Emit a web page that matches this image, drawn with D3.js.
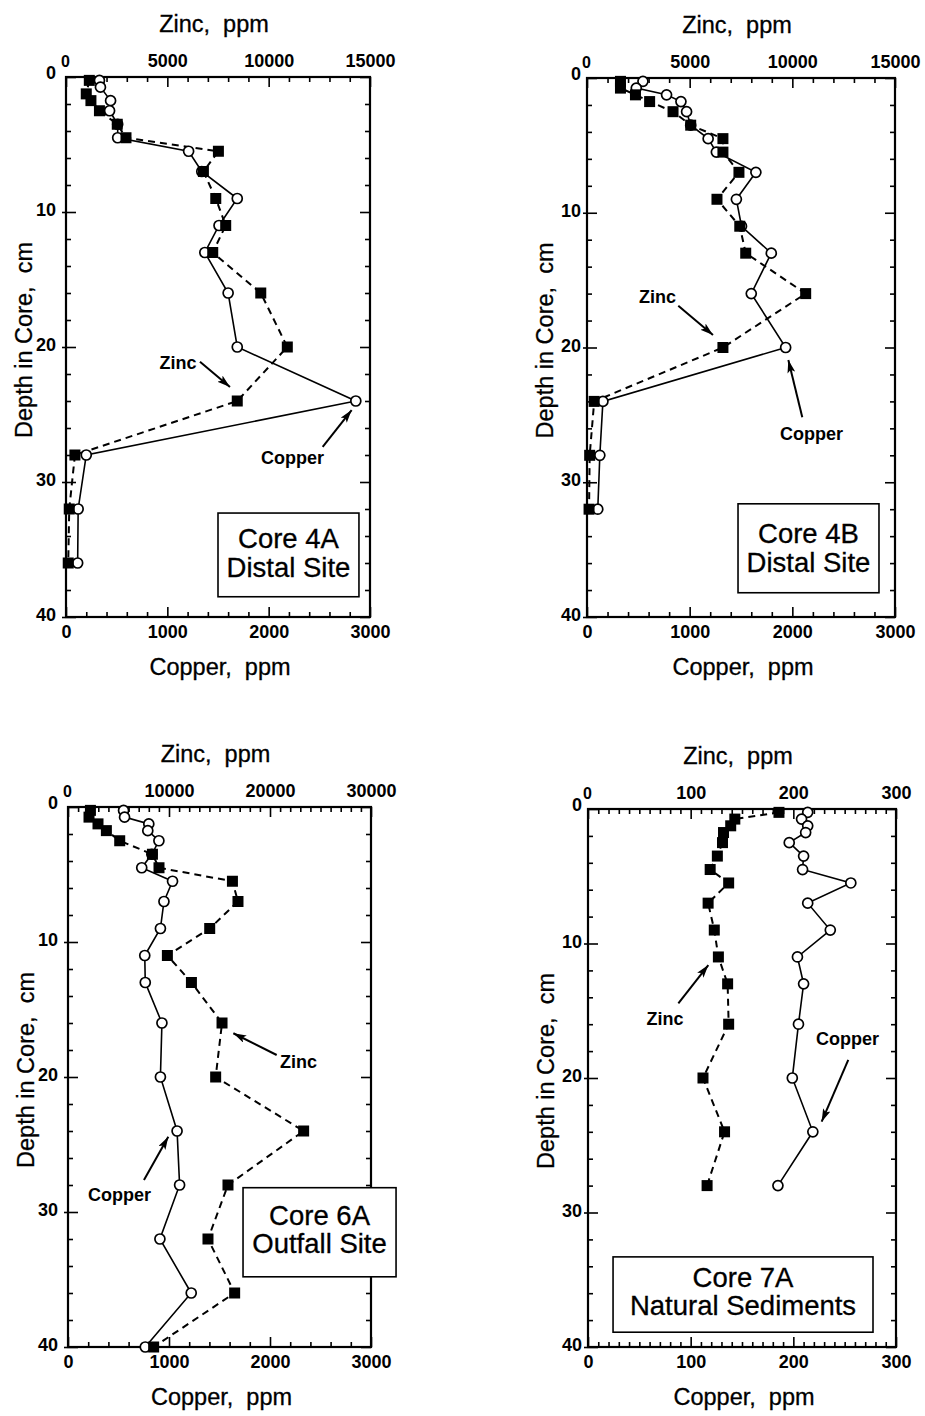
<!DOCTYPE html>
<html><head><meta charset="utf-8">
<script src="https://cdn.jsdelivr.net/npm/d3@7"></script>
<style>
body{margin:0;background:#fff}
svg{display:block}
text{font-family:"Liberation Sans",Arial,Helvetica,sans-serif;fill:#000}
</style>
</head><body>
<svg id="c" width="925" height="1416"></svg>
<script>
// ---------------- DATA ----------------
// Core 4A (Distal Site)
const depth4A_cu = [0.25,0.75,1.75,2.5,3.5,4.5,5.5,7,9,11,13,16,20,24,28,32,36];
const cu4A       = [330,340,440,430,510,510,1210,1340,1690,1510,1370,1600,1690,2860,200,120,115];
const depth4A_zn = [0.25,1.25,1.75,2.5,3.5,4.5,5.5,7,9,11,13,16,20,24,28,32,36];
const zn4A       = [1150,1000,1230,1650,2530,2960,7520,6780,7390,7880,7240,9610,10920,8450,440,160,110];

// Core 4B (Distal Site)
const depth4B_cu = [0.25,0.75,1.25,1.75,2.5,3.5,4.5,5.5,7,9,11,13,16,20,24,28,32];
const cu4B       = [545,480,775,915,970,1010,1180,1260,1645,1455,1505,1795,1600,1935,155,125,105];
const depth4B_zn = [0.25,0.75,1.25,1.75,2.5,3.5,4.5,5.5,7,9,11,13,16,20,24,28,32];
const zn4B       = [1630,1630,2360,3050,4190,5050,6620,6620,7400,6330,7440,7730,10650,6620,350,130,100];

// Core 6A (Outfall Site)
const depth6A_cu = [0.25,0.75,1.25,1.75,2.5,3.5,4.5,5.5,7,9,11,13,16,20,24,28,32,36,40];
const cu6A       = [550,560,800,790,900,830,730,1035,950,915,760,765,930,915,1080,1105,910,1220,765];
const depth6A_zn = [0.25,0.75,1.25,1.75,2.5,3.5,4.5,5.5,7,9,11,13,16,20,24,28,32,36,40];
const zn6A       = [2220,2080,2970,3800,5120,8360,9010,16280,16830,14030,9840,12220,15250,14620,23330,15840,13860,16500,8480];

// Core 7A (Natural Sediments)
const depth7A_cu = [0.25,0.75,1.25,1.75,2.5,3.5,4.5,5.5,7,9,11,13,16,20,24,28];
const cu7A       = [214,208,214,212,196,210,209,256,214,236,204,210,205,199,219,185];
const depth7A_zn = [0.25,0.75,1.25,1.75,2.5,3.5,4.5,5.5,7,9,11,13,16,20,24,28];
const zn7A       = [186,143,139,132,131,126,119,137,117,123,127,136,137,112,133,116];

// Tick labels
const depthTicks = [0,10,20,30,40];
const cuTicks3000 = [0,1000,2000,3000];
const znTicks15000 = [0,5000,10000,15000];
const znTicks30000 = [0,10000,20000,30000];
const ticks300 = [0,100,200,300];

// Text
const zincTitle = "Zinc,\u00a0\u00a0ppm";
const copperTitle = "Copper,\u00a0\u00a0ppm";
const depthTitle = "Depth in Core,\u00a0\u00a0cm";
const boxLines4A = ["Core 4A","Distal Site"];
const boxLines4B = ["Core 4B","Distal Site"];
const boxLines6A = ["Core 6A","Outfall Site"];
const boxLines7A = ["Core 7A","Natural Sediments"];

// ---------------- LAYOUT ----------------
const panels = [
  {frame:[66,370,77,617], cuMax:3000, znMax:15000, cuStep:200, znStep:1000, cuMajor:1000, znMajor:5000,
   cuLab:cuTicks3000, znLab:znTicks15000, dc:depth4A_cu, cu:cu4A, dz:depth4A_zn, zn:zn4A, leftPad:10,
   box:{cu:[1500,2891], d:[32.3,38.5], lines:boxLines4A, base:[35,64]},
   ann:[{t:"Zinc", at:[1105,21.6], from:[1322,21.1], to:[1618,22.96]},
        {t:"Copper", at:[2235,28.7], from:[2533,27.4], to:[2819,24.67]}]},
  {frame:[587,895,78,617], cuMax:3000, znMax:15000, cuStep:200, znStep:1000, cuMajor:1000, znMajor:5000,
   cuLab:cuTicks3000, znLab:znTicks15000, dc:depth4B_cu, cu:cu4B, dz:depth4B_zn, zn:zn4B, leftPad:6,
   box:{cu:[1471,2844], d:[31.6,38.2], lines:boxLines4B, base:[39,68]},
   ann:[{t:"Zinc", at:[687,16.7], from:[889,16.9], to:[1227,19.07]},
        {t:"Copper", at:[2187,26.86], from:[2097,25.18], to:[1961,20.93]}]},
  {frame:[68,371,807,1347], cuMax:3000, znMax:30000, cuStep:200, znStep:1000, cuMajor:1000, znMajor:10000,
   cuLab:cuTicks3000, znLab:znTicks30000, dc:depth6A_cu, cu:cu6A, dz:depth6A_zn, zn:zn6A, leftPad:10,
   box:{cu:[1733,3248], d:[28.2,34.8], lines:boxLines6A, base:[37,65]},
   ann:[{t:"Zinc", at:[2282,19.33], from:[2066,18.37], to:[1637,16.76]},
        {t:"Copper", at:[510,29.19], from:[752,27.63], to:[993,24.42]}]},
  {frame:[588,896,809,1347], cuMax:300, znMax:300, cuStep:10, znStep:10, cuMajor:100, znMajor:100,
   cuLab:ticks300, znLab:ticks300, dc:depth7A_cu, cu:cu7A, dz:depth7A_zn, zn:zn7A, leftPad:6,
   box:{cu:[24.4,277.6], d:[33.3,38.9], lines:boxLines7A, base:[30,58]},
   ann:[{t:"Zinc", at:[75,16.06], from:[88,14.45], to:[117.2,11.6]},
        {t:"Copper", at:[252.8,17.55], from:[253.5,18.66], to:[227.6,23.25]}]}
];

const svg = d3.select("#c");
svg.append("rect").attr("width",925).attr("height",1416).attr("fill","#fff");
svg.append("defs").append("marker")
  .attr("id","ah").attr("viewBox","0 0 13 8").attr("refX",13).attr("refY",4)
  .attr("markerWidth",13).attr("markerHeight",8).attr("markerUnits","userSpaceOnUse")
  .attr("orient","auto")
  .append("path").attr("d","M0,0L13,4L0,8L3,4Z").attr("fill","#000");

function styleAxis(g){
  g.select(".domain").remove();
  g.selectAll(".tick line").attr("stroke","#000").attr("stroke-width",1.6);
  g.selectAll("text").attr("font-size",18).attr("font-weight","bold")
   .attr("font-family","'Liberation Sans',Arial,sans-serif").attr("fill","#000");
}

panels.forEach(p=>{
  const [x0,x1,y0,y1] = p.frame;
  const x = d3.scaleLinear().domain([0,p.cuMax]).range([x0,x1]);
  const xz = d3.scaleLinear().domain([0,p.znMax]).range([x0,x1]);
  const y = d3.scaleLinear().domain([0,40]).range([y0,y1]);
  const g = svg.append("g");

  const cuMinor = d3.range(0,p.cuMax+1e-9,p.cuStep).filter(v=>v%p.cuMajor!==0);
  const znMinor = d3.range(0,p.znMax+1e-9,p.znStep).filter(v=>v%p.znMajor!==0);
  const dMinor = d3.range(0,41,2).filter(v=>v%10!==0);
  const minorLen = 5, majorLen = 10;

  // bottom (copper)
  styleAxis(g.append("g").attr("transform",`translate(0,${y1})`)
    .call(d3.axisBottom(x).tickValues(cuMinor).tickSize(-minorLen).tickFormat("")));
  styleAxis(g.append("g").attr("transform",`translate(0,${y1})`)
    .call(d3.axisBottom(x).tickValues(p.cuLab).tickSize(-majorLen).tickPadding(8).tickFormat(d3.format("d"))));
  // top (zinc)
  styleAxis(g.append("g").attr("transform",`translate(0,${y0})`)
    .call(d3.axisTop(xz).tickValues(znMinor).tickSize(-minorLen).tickFormat("")));
  const topAx = g.append("g").attr("transform",`translate(0,${y0})`)
    .call(d3.axisTop(xz).tickValues(p.znLab).tickSize(-majorLen).tickPadding(10).tickFormat(d3.format("d")));
  styleAxis(topAx);
  topAx.selectAll(".tick").filter(d=>d===0).select("text").attr("font-size",16).attr("dx",-1);
  // left (depth)
  styleAxis(g.append("g").attr("transform",`translate(${x0},0)`)
    .call(d3.axisLeft(y).tickValues(dMinor).tickSize(-minorLen).tickFormat("")));
  const leftAx = g.append("g").attr("transform",`translate(${x0},0)`)
    .call(d3.axisLeft(y).tickValues(depthTicks).tickSize(-majorLen).tickPadding(p.leftPad).tickFormat(d3.format("d")));
  styleAxis(leftAx);
  leftAx.selectAll("text").attr("dy","0.2em");
  leftAx.selectAll(".tick").filter(d=>d===0).select("text").attr("dy","0.1em");
  styleAxis(g.append("g").attr("transform",`translate(${x0},0)`)
    .call(d3.axisLeft(y).tickValues(depthTicks.slice(1)).tickSize(4).tickFormat("")));
  // right
  styleAxis(g.append("g").attr("transform",`translate(${x1},0)`)
    .call(d3.axisRight(y).tickValues(dMinor).tickSize(-minorLen).tickFormat("")));
  styleAxis(g.append("g").attr("transform",`translate(${x1},0)`)
    .call(d3.axisRight(y).tickValues(depthTicks).tickSize(-majorLen).tickFormat("")));

  // frame
  g.append("rect").attr("x",x0).attr("y",y0).attr("width",x1-x0).attr("height",y1-y0)
    .attr("fill","none").attr("stroke","#000").attr("stroke-width",2.2);

  // titles
  const cx = (x0+x1)/2;
  const titleStyle = t => t.attr("font-size",23.5).attr("stroke","#000").attr("stroke-width",0.3);
  g.append("text").attr("x",cx-4).attr("y",y0-45).attr("text-anchor","middle")
    .call(titleStyle).text(zincTitle);
  g.append("text").attr("x",cx+2).attr("y",y1+58).attr("text-anchor","middle")
    .call(titleStyle).text(copperTitle);
  g.append("text").attr("transform",`translate(${x0-34},${(y0+y1)/2-7}) rotate(-90)`)
    .attr("text-anchor","middle").call(titleStyle).text(depthTitle);

  // data
  const cuPts = p.dc.map((d,i)=>({d, v:p.cu[i]}));
  const znPts = p.dz.map((d,i)=>({d, v:p.zn[i]}));
  g.append("path").datum(znPts)
    .attr("d", d3.line().x(o=>xz(o.v)).y(o=>y(o.d)))
    .attr("fill","none").attr("stroke","#000").attr("stroke-width",2).attr("stroke-dasharray","7,5");
  g.append("path").datum(cuPts)
    .attr("d", d3.line().x(o=>x(o.v)).y(o=>y(o.d)))
    .attr("fill","none").attr("stroke","#000").attr("stroke-width",1.6);
  g.selectAll("circle.cu").data(cuPts).join("circle").attr("class","cu")
    .attr("cx",o=>x(o.v)).attr("cy",o=>y(o.d)).attr("r",5)
    .attr("fill","#fff").attr("stroke","#000").attr("stroke-width",1.7);
  g.selectAll("rect.zn").data(znPts).join("rect").attr("class","zn")
    .attr("x",o=>xz(o.v)-5.5).attr("y",o=>y(o.d)-5.5).attr("width",11).attr("height",11)
    .attr("fill","#000");

  // annotations
  p.ann.forEach(a=>{
    g.append("text").attr("x",x(a.at[0])).attr("y",y(a.at[1])).attr("text-anchor","middle")
      .attr("font-size",18).attr("font-weight","bold").text(a.t);
    g.append("line").attr("x1",x(a.from[0])).attr("y1",y(a.from[1]))
      .attr("x2",x(a.to[0])).attr("y2",y(a.to[1]))
      .attr("stroke","#000").attr("stroke-width",2).attr("marker-end","url(#ah)");
  });

  // label box
  const bx0 = x(p.box.cu[0]), bx1 = x(p.box.cu[1]), by0 = y(p.box.d[0]), by1 = y(p.box.d[1]);
  g.append("rect").attr("x",bx0).attr("y",by0).attr("width",bx1-bx0).attr("height",by1-by0)
    .attr("fill","#fff").attr("stroke","#000").attr("stroke-width",1.6);
  p.box.lines.forEach((l,i)=>{
    g.append("text").attr("x",(bx0+bx1)/2).attr("y",by0+p.box.base[i]).attr("text-anchor","middle")
      .attr("font-size",27.5).attr("stroke","#000").attr("stroke-width",0.3).text(l);
  });
});
</script>
</body></html>
